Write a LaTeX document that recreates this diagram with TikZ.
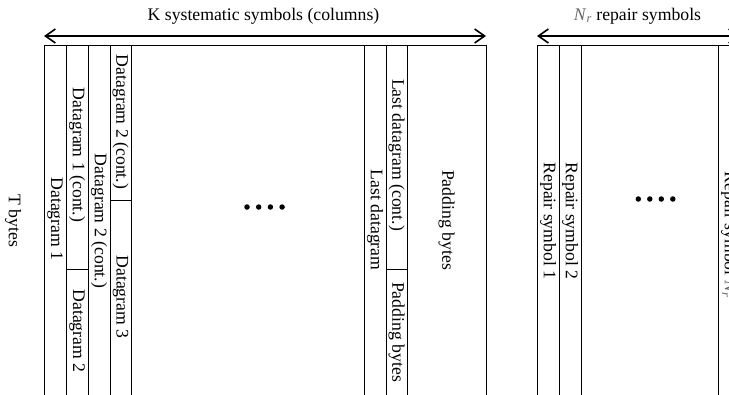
\documentclass[tikz,border=0pt]{standalone}
\usepackage{fontspec}
\setmainfont{Liberation Serif}
\usetikzlibrary{arrows.meta}
\tikzset{
    every node/.style={inner sep=0pt, font=\fontsize{17.7}{20}\selectfont}
}
\tikzset{
    colline/.style={line width=0.8pt},
    vlabel/.style={rotate=-90},
    span/.style={{Straight Barb[length=10pt,width=14pt]}-{Straight Barb[length=10pt,width=14pt]},
        line width=1.6pt},
    dot/.style={circle, fill, minimum size=5.5pt}
}
\newcommand{\Nr}{{\color{black!60}\textit{N}\textsubscript{\textit{r}}}}

\begin{document}
\begin{tikzpicture}[x=1pt, y=-1pt]
	\useasboundingbox (0,0) rectangle (729,394);
	\clip (0,0) rectangle (729,394);

	% systematic symbols
	\coordinate (kl) at (44,36);
	\coordinate (kr) at (486,36);
	\draw[span] (kl) -- (kr);
	\node (khead) at (263.5,16) {K systematic symbols (columns)};
	\draw[colline] (44,45) -- (486,45);
	\foreach \x in {44,66,88,110,131,364,386,407,486}
		\draw[colline] (\x,45) -- (\x,400);
	\draw[colline] (66,269) -- (88,269);
	\draw[colline] (110,200) -- (131,200);
	\draw[colline] (386,269) -- (407,269);

	\node (tb) [vlabel] at (13,221) {T bytes};
	\node (d1) [vlabel] at (55,219) {Datagram 1};
	\node (d1c) [vlabel] at (77,155) {Datagram 1 (cont.)};
	\node (d2) [vlabel] at (77,331) {Datagram 2};
	\node (d2c) [vlabel] at (99,221) {Datagram 2 (cont.)};
	\node (d2cc) [vlabel] at (120.5,122) {Datagram 2 (cont.)};
	\node (d3) [vlabel] at (120.5,297) {Datagram 3};
	\node (ld) [vlabel] at (375,220) {Last datagram};
	\node (ldc) [vlabel] at (396.5,155) {Last datagram (cont.)};
	\node (pb1) [vlabel] at (396.5,332) {Padding bytes};
	\node (pb2) [vlabel] at (446.5,220) {Padding bytes};
	\foreach \i in {0,...,3}
		\node (kd\i) [dot] at (247+\i*11.7,207) {};

	% repair symbols
	\coordinate (rl) at (537,36);
	\coordinate (rr) at (740,36);
	\draw[span] (rl) -- (rr);
	\node (rhead) at (637.5,16) {\Nr{} repair symbols};
	\draw[colline] (537,45) -- (740,45);
	\foreach \x in {537,559,581,718,740}
		\draw[colline] (\x,45) -- (\x,400);

	\node (r1) [vlabel] at (548,221) {Repair symbol 1};
	\node (r2) [vlabel] at (570,221) {Repair symbol 2};
	\node (rn) [vlabel] at (729,235) {Repair symbol \Nr};
	\foreach \i in {0,...,3}
		\node (rd\i) [dot] at (638.3+\i*11.5,199) {};
\end{tikzpicture}
\end{document}
